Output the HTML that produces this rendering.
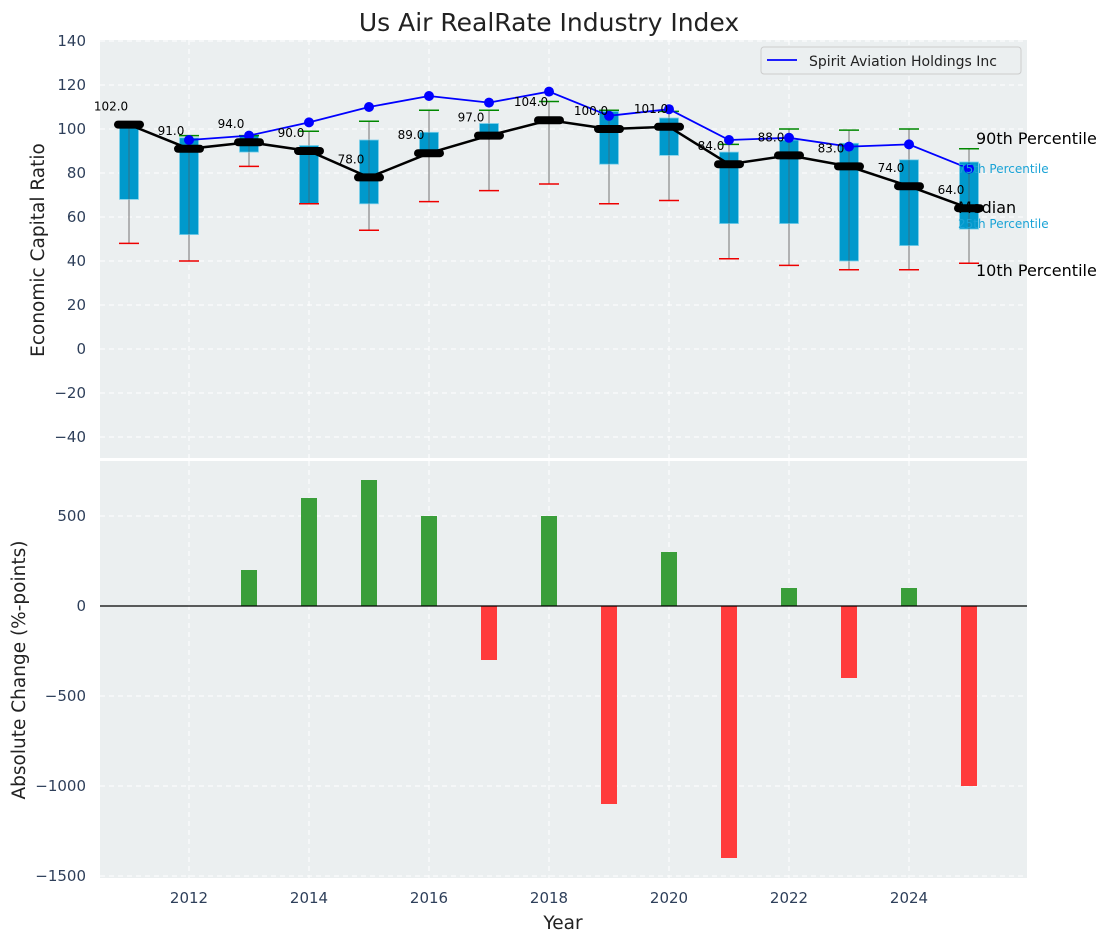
<!DOCTYPE html>
<html><head><meta charset="utf-8"><style>
body{margin:0;background:#fff;font-family:"DejaVu Sans","Liberation Sans",sans-serif;}
svg text{font-family:"DejaVu Sans","Liberation Sans",sans-serif;}
</style></head><body>
<svg id="chart" width="1111" height="942" xmlns="http://www.w3.org/2000/svg">
<text x="549" y="31" text-anchor="middle" font-size="25" fill="#222">Us Air RealRate Industry Index</text>
<rect x="100" y="40" width="927" height="418" fill="#ebeff0"/>
<rect x="100" y="461" width="927" height="417" fill="#ebeff0"/>
<g id="topG"></g><g id="botG"></g>
<text x="44" y="250" transform="rotate(-90 44 250)" text-anchor="middle" font-size="18.5" fill="#222">Economic Capital Ratio</text>
<text x="25" y="670" transform="rotate(-90 25 670)" text-anchor="middle" font-size="18.5" fill="#222">Absolute Change (%-points)</text>
<text x="563" y="929" text-anchor="middle" font-size="18.5" fill="#222">Year</text>
</svg>
<script>
const years=[2011,2012,2013,2014,2015,2016,2017,2018,2019,2020,2021,2022,2023,2024,2025];
const medians=[102,91,94,90,78,89,97,104,100,101,84,88,83,74,64];
const p25=[68,52,89.5,66,66,89,96,103.5,84,88,57,57,40,47,54.5];
const p75=[102,96,97,92.5,95,98.5,102.5,105,108,105,89.5,95,93.5,86,85];
const p10=[48,40,83,66,54,67,72,75,66,67.5,41,38,36,36,39];
const p90=[102,97,97,99,103.5,108.5,108.5,112.5,108.5,108,93,100,99.5,100,91];
const spiritYears=[2012,2013,2014,2015,2016,2017,2018,2019,2020,2021,2022,2023,2024,2025];
const spirit=[95,97,103,110,115,112,117,106,109,95,96,92,93,82];
const changes=[0,0,200,600,700,500,-300,500,-1100,300,-1400,100,-400,100,-1000];
const topTicks=[-40,-20,0,20,40,60,80,100,120,140];
const botTicks=[-1500,-1000,-500,0,500];
const xTicks=[2012,2014,2016,2018,2020,2022,2024];

const NS='http://www.w3.org/2000/svg';
const X=v=>129+(v-2011)*60;
const Y=v=>349-v*2.2;
const YB=v=>606-v*0.18;
function mk(parent,tag,attrs,text){const e=document.createElementNS(NS,tag);for(const k in attrs)e.setAttribute(k,attrs[k]);if(text!==undefined)e.textContent=text;parent.appendChild(e);return e;}
const topG=document.getElementById('topG'),botG=document.getElementById('botG');

topTicks.forEach(t=>{
  const l=mk(topG,'line',{x1:100,x2:1027,y1:Y(t),y2:Y(t),stroke:'#fff','stroke-dasharray':'5,4','stroke-width':1});
  
  
  const tx=mk(topG,'text',{x:86,y:Y(t)+5,'text-anchor':'end','font-size':15,fill:'#2e3f5a'},t<0?'\u2212'+(-t):t);
  
  
});
botTicks.forEach(t=>{
  const l=mk(botG,'line',{x1:100,x2:1027,y1:YB(t),y2:YB(t),stroke:'#fff','stroke-dasharray':'5,4','stroke-width':1});
  
  
  const tx=mk(botG,'text',{x:86,y:YB(t)+5,'text-anchor':'end','font-size':15,fill:'#2e3f5a'},t<0?'\u2212'+(-t):t);
  
  
});
xTicks.forEach(t=>{
  [[40,458],[461,878]].forEach(r=>{
    const l=mk(topG,'line',{x1:X(t),x2:X(t),y1:r[0],y2:r[1],stroke:'#fff','stroke-dasharray':'5,4','stroke-width':1});
    
    
  });
  const tx=mk(botG,'text',{x:X(t),y:903,'text-anchor':'middle','font-size':15,fill:'#2e3f5a'},t);
  
  
});

years.forEach((y,i)=>{
  const x=X(y);
  const w=mk(topG,'line',{x1:x,x2:x,y1:Y(p90[i]),y2:Y(p10[i]),stroke:'#888','stroke-width':1.2});
  
  
  const b=mk(topG,'rect',{x:x-9.5,y:Y(p75[i]),width:19,height:Y(p25[i])-Y(p75[i]),fill:'#0099cc',stroke:'#7fd0ea','stroke-width':0.8});
  
  
  const c=mk(topG,'line',{x1:x,x2:x,y1:Y(p75[i]),y2:Y(p25[i]),stroke:'#555','stroke-width':1,opacity:0.6});
  
  
  const lo=mk(topG,'line',{x1:x-10,x2:x+10,y1:Y(p10[i]),y2:Y(p10[i]),stroke:'#e00','stroke-width':1.5});
  
  
  if(i>0){
    const hi=mk(topG,'line',{x1:x-10,x2:x+10,y1:Y(p90[i]),y2:Y(p90[i]),stroke:'#080','stroke-width':1.5});
    
    
  }
});
const sp=mk(topG,'polyline',{points:spiritYears.map((y,i)=>X(y)+','+Y(spirit[i])).join(' '),fill:'none',stroke:'#0000ff','stroke-width':1.8});


spiritYears.forEach((y,i)=>{
  const c=mk(topG,'circle',{cx:X(y),cy:Y(spirit[i]),r:5,fill:'#0000ff'});
  
  
});
const ml=mk(topG,'polyline',{points:years.map((y,i)=>X(y)+','+Y(medians[i])).join(' '),fill:'none',stroke:'#000','stroke-width':2.5});


years.forEach((y,i)=>{
  const m=mk(topG,'line',{x1:X(y)-11,x2:X(y)+11,y1:Y(medians[i]),y2:Y(medians[i]),stroke:'#000','stroke-width':8,'stroke-linecap':'round'});
  
  
  const t=mk(topG,'text',{x:X(y)-18,y:Y(medians[i])-14,'text-anchor':'middle','font-size':12,fill:'#000'},medians[i].toFixed(1));
  
  
});
const last=years.length-1;
[[p90[last],'90th Percentile',16,'#000',-10,976],[p75[last],'75th Percentile',12,'#1aa3d6',6,958],[medians[last],'Median',16,'#000',0,958],[p25[last],'25th Percentile',12,'#1aa3d6',-6,958],[p10[last],'10th Percentile',16,'#000',8,976]].forEach(a=>{
  const t=mk(topG,'text',{x:a[5],y:Y(a[0])+a[4]+5,'font-size':a[2],fill:a[3]},a[1]);
  
  
});
const lg=mk(topG,'g',{});


mk(lg,'rect',{x:761,y:47,width:260,height:27,fill:'#ebeff0',stroke:'#ccc',rx:3});
mk(lg,'line',{x1:767,x2:797,y1:60,y2:60,stroke:'#0000ff','stroke-width':1.8});
mk(lg,'text',{x:809,y:66,'font-size':14,fill:'#222'},'Spirit Aviation Holdings Inc');
years.forEach((y,i)=>{
  const v=changes[i];if(v===0)return;
  const r=mk(botG,'rect',{x:X(y)-8,y:Math.min(YB(v),YB(0)),width:16,height:Math.abs(YB(v)-YB(0)),fill:v>0?'#3a9e3a':'#ff3b3b'});
  
  
});
const z=mk(botG,'line',{x1:100,x2:1027,y1:YB(0),y2:YB(0),stroke:'#000','stroke-width':1.2});


</script>
</body></html>
